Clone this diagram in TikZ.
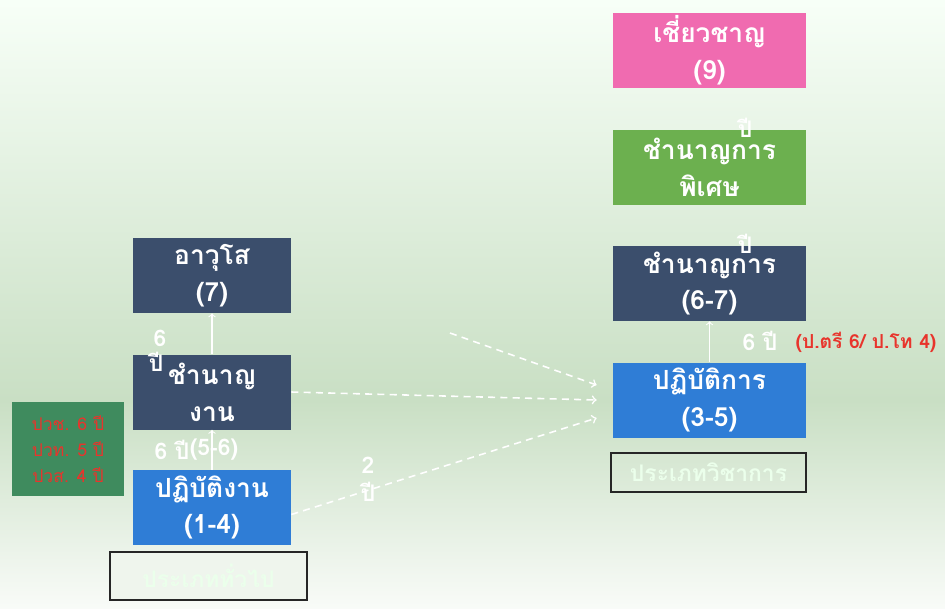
\documentclass[tikz,border=0pt]{standalone}
\usepackage{fontspec}
\newfontfamily\thaifont[Script=Thai]{Loma}
\usetikzlibrary{positioning}

\definecolor{navy}{HTML}{3B4E6C}
\definecolor{sky}{HTML}{2F7DD6}
\definecolor{rose}{HTML}{F06BB0}
\definecolor{leaf}{HTML}{6CB04F}
\definecolor{moss}{HTML}{3F8B5E}
\definecolor{redtxt}{HTML}{E8342C}
\definecolor{paleg}{HTML}{C9DFC4}

\tikzset{
	rank/.style={minimum width=31.6mm,minimum height=15mm,inner sep=0pt,align=center,
		text=white,font=\thaifont\bfseries\fontsize{15}{21}\selectfont},
	wide/.style={rank,minimum width=38.6mm},
	typebox/.style={draw=black!85,semithick,inner sep=0pt,text=white!92!green,
		font=\thaifont\bfseries\fontsize{13}{16}\selectfont},
	note/.style={text=white,font=\thaifont\bfseries\fontsize{13}{16}\selectfont,inner sep=0pt},
	up/.style={white,semithick,->},
	jump/.style={white,line width=0.9pt,dash pattern=on 4pt off 3pt,->}
}

\begin{document}
\begin{tikzpicture}[x=0.2mm,y=-0.2mm]
	\useasboundingbox (0,0) rectangle (945,608);
	\fill[top color=white!97!green,bottom color=paleg] (0,0) rectangle (945,400);		% พื้นหลัง
	\fill[top color=paleg,bottom color=white!88!paleg] (0,400) rectangle (945,608);

	% สายงานทั่วไป
	\node[rank,fill=navy] (avuso) at (212,275.5) {อาวุโส\\(7)};
	\node[rank,fill=navy] (chamnanngan) at (212,392) {ชำนาญ\\งาน};
	\node[rank,fill=sky] (patibatngan) at (212,507.5) {ปฏิบัติงาน\\(1-4)};
	\node[fill=moss,minimum width=22.4mm,minimum height=18.8mm,align=center,text=redtxt,
		font=\thaifont\fontsize{10}{15}\selectfont] (vocational) at (68,449)
		{ปวช. 6 ปี\\ปวท. 5 ปี\\ปวส. 4 ปี};
	\node[typebox,fill=white!70!paleg,minimum width=39.4mm,minimum height=9.6mm] (general)
		at (208.5,576) {ประเภททั่วไป};

	% สายงานวิชาการ
	\node[wide,fill=rose] (chiaochan) at (709.5,50.5) {เชี่ยวชาญ\\(9)};
	\node[wide,fill=leaf] (phiset) at (709.5,167) {ชำนาญการ\\พิเศษ};
	\node[wide,fill=navy] (chamnankan) at (709.5,283.5) {ชำนาญการ\\(6-7)};
	\node[wide,fill=sky] (patibatkan) at (709.5,400) {ปฏิบัติการ\\(3-5)};
	\node[typebox,minimum width=39mm,minimum height=7.8mm] (wichakan)
		at (708.5,472.5) {ประเภทวิชาการ};

	% ลูกศรเลื่อนระดับ
	\draw[up] (patibatngan.north) -- (chamnanngan.south);
	\draw[up] (chamnanngan.north) -- (avuso.south);
	\draw[up] (patibatkan.north) -- (chamnankan.south);

	\node[note] (ngan6) at (172,450) {6 ปี};
	\node[note] (ngan56) at (214,450) {(5-6)};
	\node[note] (avu6) at (160,338) {6};
	\node[note] (avupi) at (156,362) {ปี};
	\node[note] (kan6) at (760,341) {6 ปี};
	\node[text=redtxt,font=\thaifont\bfseries\fontsize{11}{13}\selectfont,inner sep=0pt]
		(degree) at (866,342) {(ป.ตรี 6/ ป.โท 4)};
	\node[note] (kanpi) at (745,244) {ปี};
	\node[note] (phisetpi) at (745,128) {ปี};

	% เปลี่ยนสายงาน
	\coordinate (from) at (450,333);
	\draw[jump] (from) -- ([xshift=-3.2mm,yshift=3mm]patibatkan.west);
	\draw[jump] (chamnanngan.east) -- ([xshift=-3.2mm]patibatkan.west);
	\draw[jump] ([yshift=-1.4mm]patibatngan.east) -- ([xshift=-3.2mm,yshift=-3.6mm]patibatkan.west);
	\node[note] (two) at (368,465) {2};
	\node[note] (twopi) at (368,492) {ปี};
\end{tikzpicture}
\end{document}
